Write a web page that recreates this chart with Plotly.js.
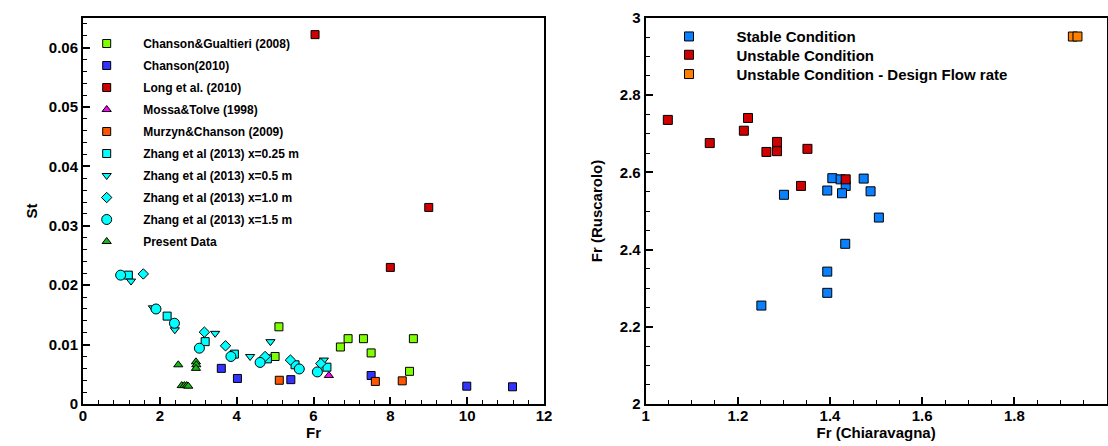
<!DOCTYPE html>
<html>
<head>
<meta charset="utf-8">
<script src="https://cdn.plot.ly/plotly-3.0.1.min.js"></script>
<style>html,body{margin:0;padding:0;background:#fff;}#chart{width:1108px;height:446px;}</style>
</head>
<body>
<div id="chart"></div>
<script>
// ---- Left chart data (Fr vs St) ----
const chansonGualtieriFr = [5.0, 5.1, 6.7, 6.9, 7.3, 7.5, 8.5, 8.6];
const chansonGualtieriSt = [0.0080, 0.0130, 0.0096, 0.0110, 0.0110, 0.0086, 0.0055, 0.0110];
const chanson2010Fr = [3.6, 4.02, 5.41, 7.5, 9.99, 11.18];
const chanson2010St = [0.0060, 0.0043, 0.0041, 0.0048, 0.0030, 0.0029];
const longFr = [6.04, 8.0, 9.0];
const longSt = [0.0622, 0.0230, 0.0331];
const mossaFr = [6.4];
const mossaSt = [0.0048];
const murzynFr = [5.11, 7.61, 8.31];
const murzynSt = [0.0040, 0.0038, 0.0039];
const zhang025Fr = [1.18, 2.19, 3.18, 3.94, 4.8, 5.52, 6.35];
const zhang025St = [0.0217, 0.0148, 0.0105, 0.0084, 0.0076, 0.0066, 0.0062];
const zhang05Fr = [1.25, 1.82, 2.39, 3.44, 4.35, 4.88, 6.27];
const zhang05St = [0.0207, 0.0162, 0.0125, 0.0119, 0.0080, 0.0105, 0.0074];
const zhang10Fr = [1.57, 3.16, 3.71, 4.74, 5.4, 6.19];
const zhang10St = [0.0219, 0.0121, 0.0098, 0.0080, 0.0074, 0.0068];
const zhang15Fr = [0.98, 1.9, 2.38, 3.03, 3.85, 4.61, 5.63, 6.1];
const zhang15St = [0.0217, 0.0160, 0.0136, 0.0094, 0.0080, 0.0070, 0.0059, 0.0054];
const presentFr = [2.48, 2.94, 2.95, 2.94, 2.57, 2.64, 2.70, 2.74];
const presentSt = [0.0066, 0.0071, 0.0066, 0.0060, 0.0031, 0.0031, 0.0031, 0.0030];

// ---- Right chart data (Fr Chiaravagna vs Fr Ruscarolo) ----
const stableX = [1.405, 1.423, 1.434, 1.473, 1.394, 1.426, 1.488, 1.300, 1.506, 1.433, 1.394, 1.394, 1.251];
const stableY = [2.585, 2.582, 2.565, 2.584, 2.553, 2.546, 2.551, 2.542, 2.483, 2.415, 2.343, 2.288, 2.255];
const unstableX = [1.048, 1.222, 1.213, 1.139, 1.285, 1.262, 1.285, 1.351, 1.337, 1.434];
const unstableY = [2.736, 2.741, 2.708, 2.676, 2.679, 2.653, 2.655, 2.661, 2.565, 2.582];
const designX = [1.927, 1.937];
const designY = [2.952, 2.952];

const FONT = 'Liberation Sans, Arial, Helvetica, sans-serif';
const line = {color: 'black', width: 1};

function leftTrace(name, x, y, color, symbol, size) {
  return {type: 'scatter', mode: 'markers', name: name, x: x, y: y,
    xaxis: 'x', yaxis: 'y', legend: 'legend', legendgroup: name,
    marker: {color: color, symbol: symbol, size: size, line: line}};
}
function rightTrace(name, x, y, color, leg) {
  return {type: 'scatter', mode: 'markers', name: name, x: x, y: y,
    xaxis: 'x2', yaxis: 'y2', legend: leg,
    marker: {color: color, symbol: 'square', size: 9, line: line}};
}

const data = [
  leftTrace('Chanson&Gualtieri (2008)', chansonGualtieriFr, chansonGualtieriSt, '#80ff00', 'square', 8),
  leftTrace('Chanson(2010)', chanson2010Fr, chanson2010St, '#3333ff', 'square', 8),
  leftTrace('Long et al. (2010)', longFr, longSt, '#d00000', 'square', 8),
  leftTrace('Mossa&Tolve (1998)', mossaFr, mossaSt, '#ff00ff', 'triangle-up', 8),
  leftTrace('Murzyn&Chanson (2009)', murzynFr, murzynSt, '#ff5500', 'square', 8),
  leftTrace('Zhang et al (2013) x=0.25 m', zhang025Fr, zhang025St, '#00ffff', 'square', 8),
  leftTrace('Zhang et al (2013) x=0.5 m', zhang05Fr, zhang05St, '#00ffff', 'triangle-down', 8),
  leftTrace('Zhang et al (2013) x=1.0 m', zhang10Fr, zhang10St, '#00ffff', 'diamond', 8),
  leftTrace('Zhang et al (2013) x=1.5 m', zhang15Fr, zhang15St, '#00ffff', 'circle', 10),
  leftTrace('Present Data', presentFr, presentSt, '#11bb11', 'triangle-up', 8),
  rightTrace('Stable Condition', stableX, stableY, '#0a80ff', 'legend2'),
  rightTrace('Unstable Condition', unstableX, unstableY, '#d00000', 'legend3'),
  rightTrace('Unstable Condition - Design Flow rate', designX, designY, '#ff8000', 'legend4')
];

const W = 1108, PT = 18, PB = 404;
function px(v) { return v / W; }
function py(v) { return (PB - v) / (PB - PT); }

const tickfont = {family: FONT, size: 15, weight: 'bold', color: 'black'};
const titlefont = {family: FONT, size: 15, weight: 'bold', color: 'black'};

function axis(extra) {
  return Object.assign({
    showline: true, linewidth: 2, linecolor: 'black', mirror: true,
    ticks: 'inside', ticklen: 7, tickwidth: 2, tickcolor: 'black',
    showgrid: false, zeroline: false, automargin: false,
    tickfont: tickfont
  }, extra);
}

function rightLegend(yc) {
  return {x: px(689 - 47.5), y: py(yc), xanchor: 'left', yanchor: 'middle',
    bgcolor: 'rgba(0,0,0,0)', borderwidth: 0, itemwidth: 85,
    font: {family: FONT, size: 15, weight: 'bold', color: 'black'}};
}

const layout = {
  width: 1108, height: 446,
  margin: {l: 0, r: 0, t: PT, b: 446 - PB},
  paper_bgcolor: 'white', plot_bgcolor: 'white',
  showlegend: true,
  xaxis: axis({domain: [px(83), px(544)], range: [0, 12], dtick: 2, tick0: 0,
    ticklabelstandoff: -3,
    minor: {ticks: 'inside', ticklen: 4, tickwidth: 1, tickcolor: 'black', dtick: 0.4},
    anchor: 'y', title: {text: 'Fr', font: titlefont, standoff: 3}}),
  yaxis: axis({domain: [0, 1], range: [0, 0.065], dtick: 0.01, tick0: 0,
    minor: {ticks: 'inside', ticklen: 4, tickwidth: 1, tickcolor: 'black', dtick: 0.002},
    anchor: 'x', title: {text: 'St', font: titlefont, standoff: 8}}),
  xaxis2: axis({domain: [px(645.7), px(1106.5)], range: [1, 2], dtick: 0.2, tick0: 1,
    ticklabelstandoff: -3,
    minor: {ticks: 'inside', ticklen: 4, tickwidth: 1, tickcolor: 'black', dtick: 0.05},
    anchor: 'y2', title: {text: 'Fr (Chiaravagna)', font: titlefont, standoff: 3}}),
  yaxis2: axis({domain: [0, 1], range: [2, 3], dtick: 0.2, tick0: 2,
    minor: {ticks: 'inside', ticklen: 4, tickwidth: 1, tickcolor: 'black', dtick: 0.05},
    anchor: 'x2', title: {text: 'Fr (Ruscarolo)', font: titlefont, standoff: 14}}),
  legend: {x: px(106.7 - 36.5), y: py(29), xanchor: 'left', yanchor: 'top',
    bgcolor: 'rgba(0,0,0,0)', borderwidth: 0, itemwidth: 63, tracegroupgap: 3,
    font: {family: FONT, size: 12, weight: 'bold', color: 'black'}},
  legend2: rightLegend(36.7),
  legend3: rightLegend(55),
  legend4: rightLegend(74.3)
};

Plotly.newPlot('chart', data, layout, {displayModeBar: false, staticPlot: true});
</script>
</body>
</html>
